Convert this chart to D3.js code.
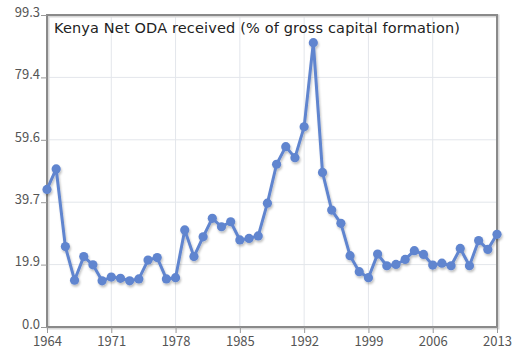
<!DOCTYPE html>
<html>
<head>
<meta charset="utf-8">
<script src="https://cdn.jsdelivr.net/npm/d3@7"></script>
<style>
  body { margin: 0; background: #fff; }
  svg { display: block; font-family: 'Noto Sans CJK KR', 'DejaVu Sans', sans-serif; }
</style>
</head>
<body>
<svg id="chart" width="522" height="363"></svg>
<script>
const title = 'Kenya Net ODA received (% of gross capital formation)'

const years = d3.range(1964, 2014)
const values = [
  43.8, 50.3, 25.6, 14.9, 22.4, 19.8, 14.7, 15.9, 15.5, 14.7,
  15.3, 21.3, 22.1, 15.3, 15.7, 30.9, 22.4, 28.7, 34.6, 31.9,
  33.5, 27.7, 28.2, 29.0, 39.4, 51.8, 57.4, 53.9, 63.7, 90.5,
  49.2, 37.2, 33.0, 22.7, 17.6, 15.7, 23.2, 19.5, 19.9, 21.5,
  24.3, 23.1, 19.7, 20.3, 19.5, 25.0, 19.5, 27.5, 24.7, 29.5
]
const xTicks = [1964, 1971, 1978, 1985, 1992, 1999, 2006, 2013]
const yTicks = [0, 19.86, 39.72, 59.58, 79.44, 99.3]

const data = years.map((yr, i) => ({ year: yr, value: values[i] }))

const margin = { top: 15, right: 25, bottom: 36, left: 47 }
const width = 522 - margin.left - margin.right
const height = 363 - margin.top - margin.bottom

const svg = d3.select('#chart')

const defs = svg.append('defs')
const shadow = defs.append('filter')
  .attr('id', 'shadow')
  .attr('x', '-10%').attr('y', '-10%')
  .attr('width', '130%').attr('height', '130%')
shadow.append('feDropShadow')
  .attr('dx', 1).attr('dy', 2)
  .attr('stdDeviation', 1.2)
  .attr('flood-color', '#000')
  .attr('flood-opacity', 0.25)

const g = svg.append('g')
  .attr('transform', 'translate(' + margin.left + ',' + margin.top + ')')

const x = d3.scaleLinear()
  .domain([1964, 2013])
  .range([0, width])
const y = d3.scaleLinear()
  .domain([0, 99.3])
  .range([height, 0])

// grid
g.append('g')
  .selectAll('line')
  .data(xTicks)
  .enter().append('line')
  .attr('x1', d => x(d)).attr('x2', d => x(d))
  .attr('y1', 0).attr('y2', height)
  .attr('stroke', '#e3e6eb')
g.append('g')
  .selectAll('line')
  .data(yTicks)
  .enter().append('line')
  .attr('x1', 0).attr('x2', width)
  .attr('y1', d => y(d)).attr('y2', d => y(d))
  .attr('stroke', '#e3e6eb')

// frame with soft shadow
g.append('rect')
  .attr('x', 1).attr('y', 1)
  .attr('width', width).attr('height', height)
  .attr('fill', 'none')
  .attr('stroke', '#d8d8d8')
  .attr('stroke-width', 3)
g.append('rect')
  .attr('x', 0).attr('y', 0)
  .attr('width', width).attr('height', height)
  .attr('fill', 'none')
  .attr('stroke', '#8a8a8a')
  .attr('stroke-width', 2)

// axes
const yAxis = g.append('g')
  .call(d3.axisLeft(y).tickValues(yTicks).tickFormat(d3.format('.1f')).tickSize(6))
const xAxis = g.append('g')
  .attr('transform', 'translate(0,' + height + ')')
  .call(d3.axisBottom(x).tickValues(xTicks).tickFormat(d3.format('d')).tickSize(6))

;[xAxis, yAxis].forEach(ax => {
  ax.select('.domain').remove()
  ax.selectAll('.tick line').attr('stroke', '#999')
  ax.selectAll('.tick text')
    .attr('fill', '#555')
    .style('font-size', '13px')
    .style('font-family', "'Noto Sans CJK KR', 'DejaVu Sans', sans-serif")
})
yAxis.selectAll('.tick text').attr('x', -7).attr('dy', '0.1em')
xAxis.selectAll('.tick text').attr('y', 10)

// line + points
const line = d3.line()
  .x(d => x(d.year))
  .y(d => y(d.value))

const series = g.append('g').attr('filter', 'url(#shadow)')
series.append('path')
  .datum(data)
  .attr('fill', 'none')
  .attr('stroke', '#6185cf')
  .attr('stroke-width', 3)
  .attr('stroke-linejoin', 'round')
  .attr('d', line)
series.selectAll('circle')
  .data(data)
  .enter().append('circle')
  .attr('cx', d => x(d.year))
  .attr('cy', d => y(d.value))
  .attr('r', 4.6)
  .attr('fill', '#6185cf')

// title
g.append('text')
  .attr('x', 7)
  .attr('y', 18)
  .attr('fill', '#222')
  .style('font-family', "'DejaVu Sans', sans-serif")
  .style('font-size', '14.5px')
  .style('letter-spacing', '0.15px')
  .text(title)
</script>
</body>
</html>
